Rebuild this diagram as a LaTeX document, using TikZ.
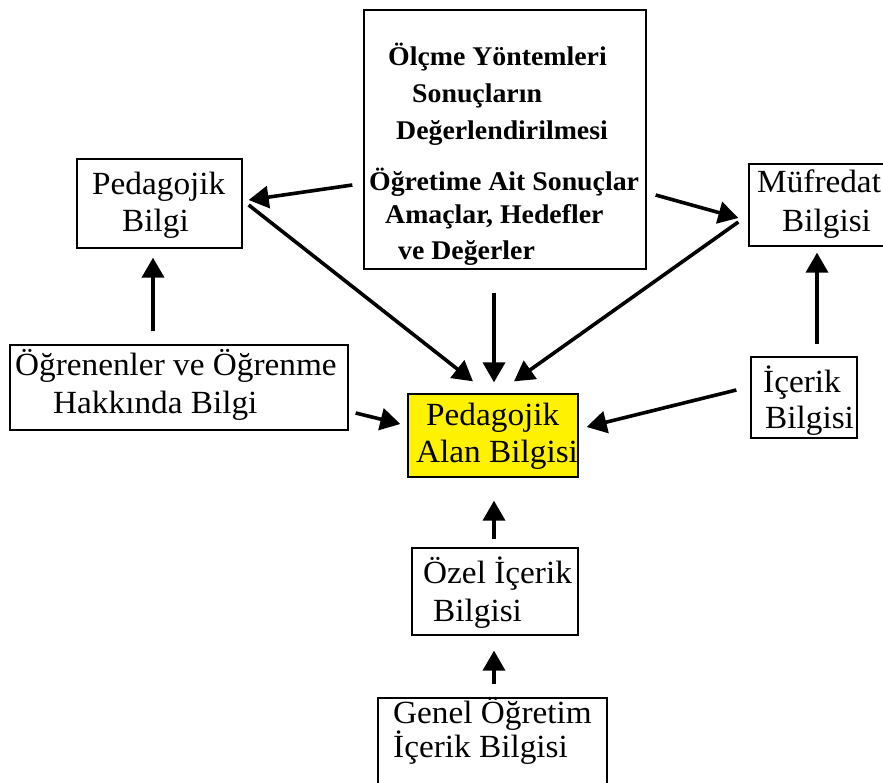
\documentclass[tikz,border=0pt]{standalone}
\usepackage{fontspec}
\setmainfont{Liberation Serif}[FakeStretch=1.03]
\usetikzlibrary{arrows.meta}
\begin{document}
\begin{tikzpicture}[x=1pt,y=-1pt,
  box/.style={draw, line width=1.3pt, inner sep=0pt, minimum width=#1},
  pabfill/.style={fill=yellow},
  lbl/.style={anchor=base west, inner sep=0pt, font=\fontsize{32.3}{36}\selectfont},
  blbl/.style={anchor=base west, inner sep=0pt, font=\fontsize{27}{30}\bfseries\selectfont},
  link/.style={line width=3.6pt, -{Triangle[length=20pt,width=22pt]}}
]
\useasboundingbox (0,0) rectangle (883,783);

% boxes
\node[box=282, minimum height=259] (top) at (505,139.5) {};
\node[box=165, minimum height=89] (pb) at (159.5,203.5) {};
\node[box=338, minimum height=85] (lrn) at (179,387.5) {};
\node[box=141, minimum height=82] (muf) at (819.5,205) {};
\node[box=106, minimum height=81] (ic) at (804,397.5) {};
\node[box=170, minimum height=83, pabfill] (pab) at (493,435.5) {};
\node[box=166, minimum height=87] (oz) at (495,591.5) {};
\node[box=229, minimum height=92] (gen) at (492.5,744) {};

% texts of the top box
\node[blbl] (t1) at (388,66) {Ölçme Yöntemleri};
\node[blbl] (t2) at (412,103) {Sonuçların};
\node[blbl] (t3) at (396,140) {Değerlendirilmesi};
\node[blbl] (t4) at (369,191) {Öğretime Ait Sonuçlar};
\node[blbl] (t5) at (385,224) {Amaçlar, Hedefler};
\node[blbl] (t6) at (398,260) {ve Değerler};

% texts of the other boxes
\node[lbl] (pb1) at (92,195) {Pedagojik};
\node[lbl] (pb2) at (122,232) {Bilgi};
\node[lbl] (lr1) at (15,375) {Öğrenenler ve Öğrenme};
\node[lbl] (lr2) at (53,413) {Hakkında Bilgi};
\node[lbl] (mf1) at (757,193) {Müfredat};
\node[lbl] (mf2) at (782,232) {Bilgisi};
\node[lbl] (ic1) at (763,392) {İçerik};
\node[lbl] (ic2) at (765,428) {Bilgisi};
\node[lbl] (pa1) at (426,425) {Pedagojik};
\node[lbl] (pa2) at (416,462) {Alan Bilgisi};
\node[lbl] (oz1) at (423,583) {Özel İçerik};
\node[lbl] (oz2) at (433,621) {Bilgisi};
\node[lbl] (ge1) at (393,723) {Genel Öğretim};
\node[lbl] (ge2) at (393,757) {İçerik Bilgisi};

% connectors
\draw[link] ([shift={(-11,45.5)}]top.west) -- ([shift={(6,-3.5)}]pb.east);
\draw[link] ([shift={(6,1.5)}]pb.east) -- ([shift={(-20,-12)}]pab.north);
\draw[link] ([shift={(-11,23)}]top.south) -- ([shift={(1,-11)}]pab.north);
\draw[link] ([shift={(9,55.5)}]top.east) -- ([shift={(-10,13)}]muf.west);
\draw[link] ([shift={(-10,17)}]muf.west) -- ([shift={(21,-12)}]pab.north);
\draw[link] ([shift={(-26,-13)}]lrn.north) -- ([shift={(-6.5,9)}]pb.south);
\draw[link] ([shift={(7,25.5)}]lrn.east) -- ([shift={(-7,-11.5)}]pab.west);
\draw[link] ([shift={(-14,-7.5)}]ic.west) -- ([shift={(8,-8.5)}]pab.east);
\draw[link] ([shift={(13,-12)}]ic.north) -- ([shift={(-2.5,6)}]muf.south);
\draw[link] ([shift={(-1,-8)}]oz.north) -- ([shift={(1,23)}]pab.south);
\draw[link] ([shift={(1.5,-13)}]gen.north) -- ([shift={(-1,15)}]oz.south);
\end{tikzpicture}
\end{document}
